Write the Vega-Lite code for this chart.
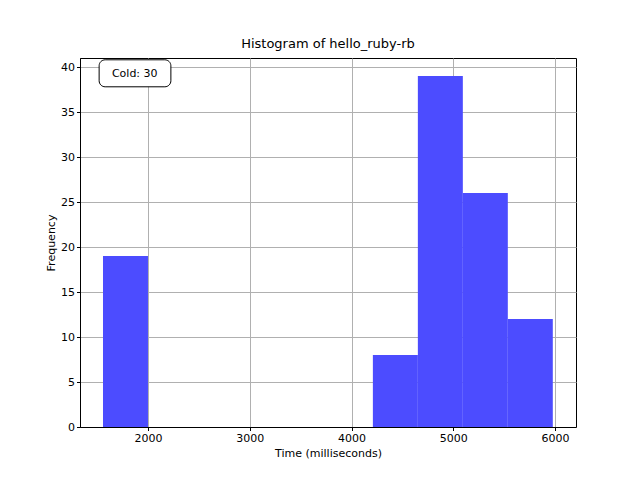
{
  "$schema": "https://vega.github.io/schema/vega-lite/v6.json",
  "width": 496,
  "height": 369,
  "autosize": "none",
  "padding": {"left": 80, "top": 58, "right": 64, "bottom": 53},
  "background": "white",
  "title": {"text": "Histogram of hello_ruby-rb", "font": "DejaVu Sans", "fontSize": 13, "fontWeight": "normal", "color": "black", "offset": 7},
  "config": {
    "font": "DejaVu Sans",
    "view": {"stroke": "black", "strokeWidth": 1},
    "axis": {"labelFont": "DejaVu Sans", "titleFont": "DejaVu Sans", "labelFontSize": 11, "titleFontSize": 11, "titleFontWeight": "normal", "labelColor": "black", "titleColor": "black", "tickColor": "black", "domainColor": "black", "gridColor": "#b0b0b0", "gridOpacity": 1, "tickSize": 3.5}
  },
  "datasets": {
    "bins": [
      {"start": 1558, "end": 2000, "count": 19},
      {"start": 4210, "end": 4652, "count": 8},
      {"start": 4652, "end": 5094, "count": 39},
      {"start": 5094, "end": 5536, "count": 26},
      {"start": 5536, "end": 5978, "count": 12}
    ],
    "note": [{"x0": 1520, "x1": 2225, "y0": 37.8, "y1": 40.8, "xt": 1870, "yt": 39.2, "label": "Cold: 30"}]
  },
  "layer": [
    {
      "data": {"name": "bins"},
      "mark": {"type": "bar", "color": "#4c4cff", "opacity": 1},
      "encoding": {
        "x": {"field": "start", "type": "quantitative", "scale": {"domain": [1332, 6206], "nice": false, "zero": false},
              "axis": {"title": "Time (milliseconds)", "values": [2000, 3000, 4000, 5000, 6000], "grid": true, "format": "d"}},
        "x2": {"field": "end"},
        "y": {"field": "count", "type": "quantitative", "scale": {"domain": [0, 41], "nice": false, "padding": 0},
              "axis": {"title": "Frequency", "values": [0, 5, 10, 15, 20, 25, 30, 35, 40], "grid": true}},
        "y2": {"datum": 0}
      }
    },
    {
      "data": {"name": "note"},
      "mark": {"type": "rect", "fill": "white", "stroke": "black", "strokeWidth": 1, "cornerRadius": 6},
      "encoding": {
        "x": {"field": "x0", "type": "quantitative"},
        "x2": {"field": "x1"},
        "y": {"field": "y0", "type": "quantitative"},
        "y2": {"field": "y1"}
      }
    },
    {
      "data": {"name": "note"},
      "mark": {"type": "text", "fontSize": 11, "font": "DejaVu Sans", "color": "black"},
      "encoding": {
        "x": {"field": "xt", "type": "quantitative"},
        "y": {"field": "yt", "type": "quantitative"},
        "text": {"field": "label"}
      }
    }
  ]
}
